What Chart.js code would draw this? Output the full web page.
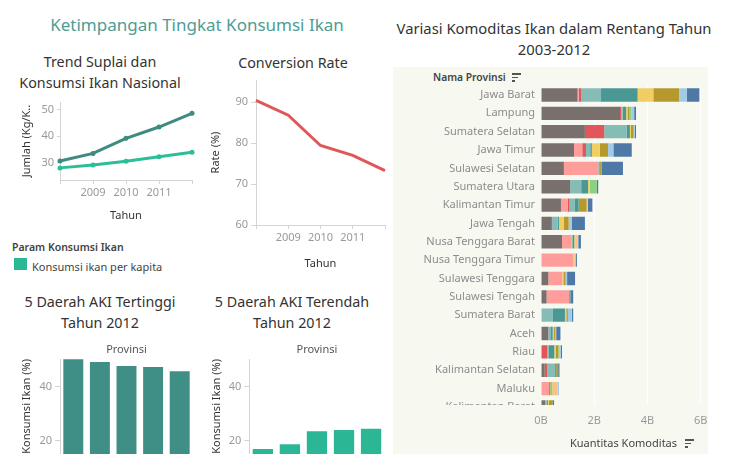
<!DOCTYPE html>
<html>
<head>
<meta charset="utf-8">
<script src="https://cdn.jsdelivr.net/npm/chart.js@4.4.1/dist/chart.umd.min.js"></script>
<style>
  html, body { margin: 0; padding: 0; background: #fff; }
  body { width: 736px; height: 454px; position: relative; overflow: hidden; font-family: "Noto Sans", sans-serif; color: #333; }
  .box { position: absolute; }
  .t { position: absolute; transform: translate(-50%, -50%); white-space: nowrap; line-height: 1; }
  .l { position: absolute; transform: translateY(-50%); white-space: nowrap; line-height: 1; }
  .judul { font-size: 14.3px; color: #333; }
  .sort { position: absolute; width: 10px; }
  .sort i { display: block; height: 1.5px; background: #555; margin-bottom: 2px; }
</style>
</head>
<body>

<div class="box" style="left:393px; top:67px; width:315px; height:387px; background:#f7f9f1;"></div>

<div class="t" style="left:197px; top:24px; font-size:17px; color:#4e9c94;">Ketimpangan Tingkat Konsumsi Ikan</div>
<div class="t judul" style="left:100px; top:62px;">Trend Suplai dan</div>
<div class="t judul" style="left:100px; top:83px;">Konsumsi Ikan Nasional</div>
<div class="t judul" style="left:293px; top:63px;">Conversion Rate</div>
<div class="t judul" style="left:100px; top:302px;">5 Daerah AKI Tertinggi</div>
<div class="t judul" style="left:100px; top:323px;">Tahun 2012</div>
<div class="t judul" style="left:292px; top:302px;">5 Daerah AKI Terendah</div>
<div class="t judul" style="left:292px; top:323px;">Tahun 2012</div>
<div class="t judul" style="left:554px; top:28px; font-size:14.8px;">Variasi Komoditas Ikan dalam Rentang Tahun</div>
<div class="t judul" style="left:554px; top:49px; font-size:14.8px;">2003-2012</div>

<div class="l" style="left:12px; top:247px; font-size:10.5px; font-weight:600; color:#444;">Param Konsumsi Ikan</div>
<div class="box" style="left:14px; top:258px; width:13px; height:12px; background:#2ab794;"></div>
<div class="l" style="left:32px; top:266px; font-size:11px; color:#444;">Konsumsi ikan per kapita</div>

<div class="l" style="left:433px; top:77px; font-size:10.3px; font-weight:600; color:#444;">Nama Provinsi</div>
<div class="sort" style="left:512px; top:73px;"><i style="width:9px"></i><i style="width:6px"></i><i style="width:3px"></i></div>
<div class="sort" style="left:685px; top:439px;"><i style="width:9px"></i><i style="width:6px"></i><i style="width:3px"></i></div>

<div class="box" style="left:20px; top:96px; width:180px; height:126px;"><canvas id="trendChart"></canvas></div>
<div class="box" style="left:209px; top:74px; width:181px; height:196px;"><canvas id="rateChart"></canvas></div>
<div class="box" style="left:20px; top:340px; width:180px; height:160px;"><canvas id="tinggiChart"></canvas></div>
<div class="box" style="left:210px; top:340px; width:180px; height:160px;"><canvas id="rendahChart"></canvas></div>
<div class="box" style="left:393px; top:67px; width:313px; height:338px; overflow:hidden;">
  <div style="position:relative; width:313px; height:350px;"><canvas id="komoditasChart"></canvas></div>
</div>
<div class="box" style="left:393px; top:405px; width:322px; height:49px;"><canvas id="sumbuChart"></canvas></div>

<script>
// data tren nasional (kg/kapita)
const years = ['2008', '2009', '2010', '2011', '2012'];
const suplaiPerKapita = [30.6, 33.5, 39.2, 43.5, 48.7];
const konsumsiPerKapita = [28.0, 29.08, 30.48, 32.25, 33.89];
const conversionRate = [90.4, 86.8, 79.4, 77.0, 73.3];

// AKI 2012
const provTertinggi = ['Maluku', 'Maluku Utara', 'Sulawesi Utara', 'Kepulauan Riau', 'Sulawesi Tenggara'];
const akiTertinggi = [50.2, 49.2, 47.7, 47.3, 45.8];
const provTerendah = ['DI Yogyakarta', 'Jawa Tengah', 'Banten', 'Jawa Timur', 'Jawa Barat'];
const akiTerendah = [17.0, 18.8, 23.6, 24.0, 24.5];

// kuantitas komoditas per provinsi (miliar)
const provinsi = ['Jawa Barat', 'Lampung', 'Sumatera Selatan', 'Jawa Timur', 'Sulawesi Selatan',
  'Sumatera Utara', 'Kalimantan Timur', 'Jawa Tengah', 'Nusa Tenggara Barat', 'Nusa Tenggara Timur',
  'Sulawesi Tenggara', 'Sulawesi Tengah', 'Sumatera Barat', 'Aceh', 'Riau', 'Kalimantan Selatan',
  'Maluku', 'Kalimantan Barat'];
const bandeng  = [1.375, 2.97, 1.65, 1.24, 0.86, 1.1, 0.75, 0.375, 0.79, 0, 0.275, 0.21, 0, 0.275, 0, 0.14, 0, 0.15];
const rumputLaut = [0.04, 0, 0, 0.31, 1.29, 0, 0.25, 0, 0.36, 1.21, 0.525, 0.85, 0, 0, 0, 0, 0.3, 0];
const patin    = [0.09, 0.04, 0.725, 0.14, 0, 0, 0.075, 0.04, 0, 0, 0, 0, 0, 0, 0.24, 0.1, 0, 0];
const lele     = [0.75, 0.06, 0.84, 0.16, 0.04, 0.41, 0.2, 0.21, 0.05, 0, 0, 0, 0.45, 0.075, 0.04, 0.29, 0, 0.06];
const nila     = [1.375, 0.13, 0.125, 0.06, 0.03, 0.26, 0.14, 0.05, 0.05, 0, 0, 0.05, 0.45, 0.09, 0.22, 0.04, 0, 0.05];
const mas      = [0.59, 0.05, 0.04, 0.3, 0, 0.06, 0, 0.19, 0.06, 0, 0.04, 0, 0.05, 0.05, 0.05, 0, 0, 0.04];
const gurame   = [0.975, 0.06, 0.1, 0.31, 0.06, 0, 0.3, 0.175, 0, 0, 0.06, 0, 0.06, 0.05, 0.1, 0.075, 0.05, 0.13];
const kakap    = [0, 0.09, 0, 0, 0, 0.26, 0, 0, 0, 0, 0.04, 0, 0, 0, 0.04, 0, 0.075, 0];
const kerapu   = [0.03, 0, 0, 0, 0, 0, 0.04, 0, 0.06, 0.06, 0, 0, 0, 0, 0, 0, 0.2, 0];
const kerang   = [0.25, 0.1, 0.05, 0.2, 0, 0, 0, 0.11, 0.03, 0.04, 0.04, 0, 0.15, 0.03, 0.05, 0, 0.05, 0];
const udang    = [0.475, 0.07, 0.04, 0.69, 0.8, 0.06, 0.175, 0.5, 0.1, 0.04, 0.3, 0.1, 0.05, 0.16, 0.05, 0.05, 0, 0.06];
const komoditas = ['Bandeng', 'Rumput Laut', 'Patin', 'Lele', 'Nila', 'Mas', 'Gurame', 'Kakap', 'Kerapu', 'Kerang', 'Udang'];
const seriKomoditas = [bandeng, rumputLaut, patin, lele, nila, mas, gurame, kakap, kerapu, kerang, udang];
const warnaKomoditas = ['#79706e', '#ff9d9a', '#e15759', '#86bcb6', '#499894', '#f1ce63', '#b6992d', '#8cd17d', '#ffbe7d', '#a0cbe8', '#4e79a7'];

Chart.defaults.font.family = '"Noto Sans", sans-serif';
Chart.defaults.font.size = 11;
Chart.defaults.animation = false;
Chart.defaults.layout.autoPadding = false;
Chart.defaults.plugins.legend.display = false;
Chart.defaults.plugins.tooltip.enabled = false;

const abu = '#d4d4d4';
const fixTicks = vals => scale => { scale.ticks = vals.map(v => ({ value: v })); };
// ukuran sumbu tetap, tanpa padding label otomatis
const ukuran = (w, h) => s => {
    if (w != null) s.width = w;
    if (h != null) s.height = h;
    s.paddingTop = s.paddingBottom = s.paddingLeft = s.paddingRight = 0;
};

function sumbuTahun(tinggi) {
    return {
        type: 'category', offset: false,
        afterFit: ukuran(null, tinggi),
        grid: { drawOnChartArea: false, tickLength: 4, color: abu },
        border: { color: abu },
        ticks: { padding: 2, color: '#999', autoSkip: false, maxRotation: 0,
                 callback: (v, i) => (i === 0 || i === years.length - 1) ? '' : years[i] },
        title: { display: true, text: 'Tahun', color: '#333', padding: 0 }
    };
}

function sumbuY(lebar, min, max, ticks, judul, tickLen, align) {
    return {
        min: min, max: max,
        afterBuildTicks: fixTicks(ticks),
        afterFit: ukuran(lebar, null),
        grid: { drawOnChartArea: false, tickLength: tickLen, color: abu },
        border: { color: abu },
        ticks: { padding: 3, color: '#999' },
        title: { display: true, text: judul, color: '#333', padding: 0, align: align || 'center' }
    };
}

// tren suplai dan konsumsi
new Chart(document.getElementById('trendChart'), {
    type: 'line',
    data: {
        labels: years,
        datasets: [
            { label: 'Suplai ikan per kapita', data: suplaiPerKapita, borderColor: '#3d8b81', backgroundColor: '#3d8b81',
              borderWidth: 3, pointRadius: 2.5, pointBorderWidth: 0 },
            { label: 'Konsumsi ikan per kapita', data: konsumsiPerKapita, borderColor: '#2dbd97', backgroundColor: '#2dbd97',
              borderWidth: 3, pointRadius: 2.5, pointBorderWidth: 0 }
        ]
    },
    options: {
        responsive: true, maintainAspectRatio: false,
        layout: { padding: { top: 6, right: 8, left: 0, bottom: 0 } },
        scales: {
            x: sumbuTahun(42),
            y: sumbuY(40, 23.4, 53, [30, 40, 50], 'Jumlah (Kg/K..', 3)
        }
    }
});

// conversion rate
new Chart(document.getElementById('rateChart'), {
    type: 'line',
    data: {
        labels: years,
        datasets: [{ label: 'Conversion Rate', data: conversionRate, borderColor: '#e15759', borderWidth: 3, pointRadius: 0 }]
    },
    options: {
        responsive: true, maintainAspectRatio: false,
        layout: { padding: { top: 6, right: 5, left: 0, bottom: 0 } },
        scales: {
            x: sumbuTahun(45),
            y: sumbuY(47, 60, 95.4, [60, 70, 80, 90], 'Rate (%)', 5)
        }
    }
});

function barAki(id, labels, data, warna, lebarY, kanan) {
    return new Chart(document.getElementById(id), {
        type: 'bar',
        data: { labels: labels, datasets: [{ label: 'Konsumsi Ikan (%)', data: data, backgroundColor: warna,
                categoryPercentage: 1, barPercentage: 0.75 }] },
        options: {
            responsive: true, maintainAspectRatio: false,
            layout: { padding: { top: 0, right: kanan, left: 0, bottom: 5 } },
            scales: {
                x: { position: 'top', afterFit: ukuran(null, 19),
                     ticks: { display: false }, grid: { display: false }, border: { display: false },
                     title: { display: true, text: 'Provinsi', color: '#555', padding: { top: 3.4, bottom: 0 } } },
                y: sumbuY(lebarY, 0, 50.3, [0, 20, 40], 'Konsumsi Ikan (%)', 5, 'end')
            }
        }
    });
}
barAki('tinggiChart', provTertinggi, akiTertinggi, '#3f8f87', 40, 7);
barAki('rendahChart', provTerendah, akiTerendah, '#2bb795', 39.3, 5.4);

// variasi komoditas - batang bertumpuk
new Chart(document.getElementById('komoditasChart'), {
    type: 'bar',
    data: {
        labels: provinsi,
        datasets: seriKomoditas.map((seri, i) => ({
            label: komoditas[i], data: seri, backgroundColor: warnaKomoditas[i],
            categoryPercentage: 1, barPercentage: 0.725
        }))
    },
    options: {
        indexAxis: 'y',
        responsive: true, maintainAspectRatio: false,
        layout: { padding: { top: 18.8, right: 0, left: 0, bottom: 0.9 } },
        scales: {
            x: { stacked: true, min: 0, max: 6.2, afterBuildTicks: fixTicks([0, 2, 4, 6]),
                 afterFit: ukuran(null, 0),
                 ticks: { display: false }, border: { display: false },
                 grid: { color: '#ffffff', lineWidth: 1, drawTicks: false } },
            y: { stacked: true, afterFit: ukuran(148, null),
                 grid: { display: false, drawTicks: false }, border: { display: false },
                 ticks: { padding: 6, color: '#8c8c8c', font: { size: 11 }, autoSkip: false } }
        }
    }
});

// sumbu bawah untuk grafik komoditas
new Chart(document.getElementById('sumbuChart'), {
    type: 'line',
    data: { labels: [], datasets: [] },
    options: {
        responsive: true, maintainAspectRatio: false,
        layout: { padding: { top: 0, left: 0, bottom: 0, right: 9 } },
        scales: {
            x: { type: 'linear', min: 0, max: 6.2, afterBuildTicks: fixTicks([0, 2, 4, 6]),
                 afterFit: ukuran(null, 48),
                 grid: { display: false, drawTicks: false }, border: { display: false },
                 ticks: { padding: 8, color: '#999', callback: v => v + 'B' },
                 title: { display: true, text: 'Kuantitas Komoditas', color: '#444', padding: { top: 0, bottom: 4 } } },
            y: { type: 'linear', afterFit: ukuran(148, null),
                 ticks: { display: false }, grid: { display: false }, border: { display: false } }
        }
    }
});
</script>
</body>
</html>
